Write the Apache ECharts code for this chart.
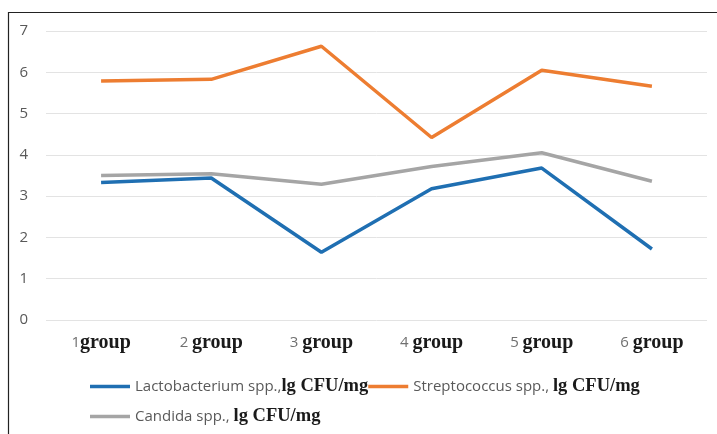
<!DOCTYPE html>
<html><head><meta charset="utf-8">
<script src="https://cdn.jsdelivr.net/npm/echarts@6/dist/echarts.min.js"></script>
<style>html,body{margin:0;padding:0;background:#fff}#c{width:717px;height:434px}</style>
</head><body><div id="c"></div>
<script>
const groupNums = ['1', '2', '3', '4', '5', '6'];
const categories = ['1group', '2 group', '3 group', '4 group', '5 group', '6 group'];
const seriesNames = ['Lactobacterium spp.', 'Streptococcus spp.', 'Candida spp.'];
const unitLabel = 'lg CFU/mg';
const lacto = [3.33, 3.44, 1.64, 3.18, 3.68, 1.72];
const strepto = [5.79, 5.83, 6.63, 4.42, 6.05, 5.66];
const candida = [3.50, 3.54, 3.29, 3.72, 4.05, 3.36];
const yTicks = [0, 1, 2, 3, 4, 5, 6, 7];

const chart = echarts.init(document.getElementById('c'));
const sansFont = '"Open Sans", "Noto Sans", sans-serif';
const serifFont = '"Liberation Serif", "DejaVu Serif", serif';
const legendRich = {
  a: { fontFamily: sansFont, fontSize: 15, color: '#595959' },
  b: { fontFamily: serifFont, fontSize: 18.5, fontWeight: 'bold', color: '#1a1a1a' }
};
const legendFmt = name => '{a|' + name + (name === seriesNames[0] ? ',' : ', ') + '}{b|' + unitLabel + '}';
const mkSeries = (name, data, color) => ({
  name, type: 'line', data, symbol: 'none',
  lineStyle: { width: 3.5, color }, itemStyle: { color }
});
const legendBase = { left: 85, itemWidth: 40, itemHeight: 3.5, itemGap: 0, icon: 'rect',
  formatter: legendFmt, textStyle: { rich: legendRich } };
chart.setOption({
  animation: false,
  grid: { left: 46, right: 10, top: 31, bottom: 114 },
  xAxis: {
    type: 'category', data: categories, boundaryGap: true,
    axisLine: { show: false }, axisTick: { show: false },
    axisLabel: {
      margin: 13,
      formatter: (v, i) => {
        const n = groupNums[i];
        const sp = v.indexOf(' ') >= 0 ? ' ' : '';
        return '{n|' + n + sp + '}{g|group}';
      },
      rich: {
        n: { fontFamily: sansFont, fontSize: 15, color: '#707070' },
        g: { fontFamily: serifFont, fontSize: 20, fontWeight: 'bold', color: '#1a1a1a' }
      }
    }
  },
  yAxis: {
    type: 'value', min: 0, max: 7, interval: 1,
    axisLine: { show: false }, axisTick: { show: false },
    axisLabel: { fontFamily: sansFont, fontSize: 15, color: '#595959', margin: 18,
      formatter: v => yTicks.includes(v) ? String(v) : '' },
    splitLine: { lineStyle: { color: '#e3e3e3', width: 1 } }
  },
  legend: [
    Object.assign({ data: seriesNames.slice(0, 2), top: 372 }, legendBase),
    Object.assign({ data: seriesNames.slice(2), top: 402 }, legendBase)
  ],
  graphic: [
    { type: 'polyline', shape: { points: [[8.5, 440], [8.5, 12.5], [720, 12.5]] },
      style: { stroke: '#222', lineWidth: 1.2, fill: null } }
  ],
  series: [
    mkSeries(seriesNames[0], lacto, '#1f6fb2'),
    mkSeries(seriesNames[1], strepto, '#ed7d31'),
    mkSeries(seriesNames[2], candida, '#a5a5a5')
  ]
});
</script></body></html>
